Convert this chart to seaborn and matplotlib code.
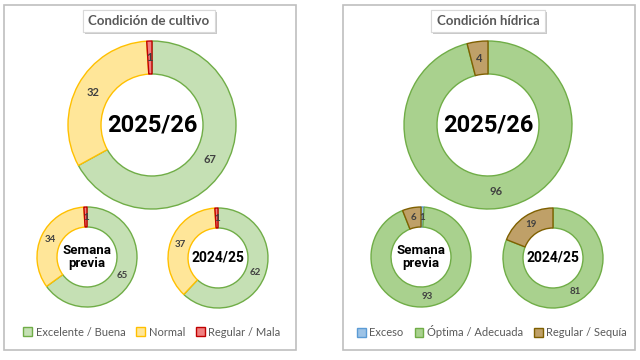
import matplotlib.pyplot as plt
import matplotlib.patheffects as pe
from matplotlib.patches import Rectangle, Patch
import seaborn as sns

# Condición de cultivo (% del área)
crop_labels = ["Excelente / Buena", "Normal", "Regular / Mala"]
crop_2025 = [67, 32, 1]
crop_prev = [65, 34, 1]
crop_2024 = [62, 37, 1]

# Condición hídrica (% del área)
water_labels = ["Exceso", "Óptima / Adecuada", "Regular / Sequía"]
water_2025 = [0, 96, 4]
water_prev = [1, 93, 6]
water_2024 = [0, 81, 19]

crop_fill = ["#C5E0B4", "#FFE699", "#F08080"]
crop_edge = ["#70AD47", "#FFC000", "#C00000"]
water_fill = ["#9DC3E6", "#A9D18E", "#BFA068"]
water_edge = ["#5B9BD5", "#70AD47", "#7F6000"]

sns.set_theme(style="white")
plt.rcParams["font.family"] = ["Lato", "DejaVu Sans"]
CENTER_FONT = ["Roboto", "DejaVu Sans"]
GREY = "#404040"


def draw_donut(ax, values, center, radius, width, fills, edges, label, label_size, num_size):
    wedges, _, autotexts = ax.pie(
        values, colors=fills, startangle=90, counterclock=False,
        center=center, radius=radius, frame=True,
        wedgeprops=dict(width=width, linewidth=1.0),
        autopct=lambda p: f"{p:.0f}" if p > 0.5 else "",
        pctdistance=(radius - width / 2) / radius,
        textprops=dict(color=GREY, fontsize=num_size, fontweight="bold"),
    )
    for w, e in zip(wedges, edges):
        w.set_edgecolor(e)
    ax.text(center[0], center[1], label, ha="center", va="center",
            fontsize=label_size, fontweight="bold", color="black",
            family=CENTER_FONT, linespacing=1.05)


def panel(ax, x0, x1, title, title_x):
    ax.add_patch(Rectangle((x0, 10), x1 - x0, 345, fill=False,
                           edgecolor="#BFBFBF", linewidth=1.2))
    t = ax.text(title_x, 339, title, ha="center", va="center", fontsize=9.5,
                fontweight="bold", color="#595959",
                bbox=dict(boxstyle="square,pad=0.4", facecolor="white",
                          edgecolor="#D9D9D9", linewidth=0.8))
    t.get_bbox_patch().set_path_effects(
        [pe.withSimplePatchShadow(offset=(1.5, -1.5), alpha=0.3), pe.Normal()])


fig = plt.figure(figsize=(6.4, 3.6), dpi=100)
ax = fig.add_axes([0, 0, 1, 1])

panel(ax, 4, 296, "Condición de cultivo", 149)
panel(ax, 343, 635, "Condición hídrica", 488)

draw_donut(ax, crop_2025, (152, 235), 84, 33, crop_fill, crop_edge, "2025/26", 17, 8)
draw_donut(ax, crop_prev, (87, 103), 50, 20, crop_fill, crop_edge, "Semana\nprevia", 9.5, 7)
draw_donut(ax, crop_2024, (218, 102), 50, 20, crop_fill, crop_edge, "2024/25", 10, 7)

draw_donut(ax, water_2025, (488, 235), 84, 33, water_fill, water_edge, "2025/26", 17, 8)
draw_donut(ax, water_prev, (421, 103), 50, 20, water_fill, water_edge, "Semana\nprevia", 9.5, 7)
draw_donut(ax, water_2024, (553, 102), 50, 20, water_fill, water_edge, "2024/25", 10, 7)


def legend(labels, fills, edges, x):
    handles = [Patch(facecolor=f, edgecolor=e, label=l) for l, f, e in zip(labels, fills, edges)]
    return ax.legend(handles=handles, loc="center", bbox_to_anchor=(x, 28),
                     bbox_transform=ax.transData, ncol=3, frameon=False,
                     fontsize=8, labelcolor="#595959", handlelength=0.8,
                     handleheight=0.8, handletextpad=0.3, columnspacing=1.0)


leg1 = legend(crop_labels, crop_fill, crop_edge, 152)
ax.add_artist(leg1)
legend(water_labels, water_fill, water_edge, 492)

ax.set_xlim(0, 640)
ax.set_ylim(0, 360)
ax.set_aspect("equal")
ax.axis("off")

fig.savefig("out.png", dpi=100, facecolor="white")
